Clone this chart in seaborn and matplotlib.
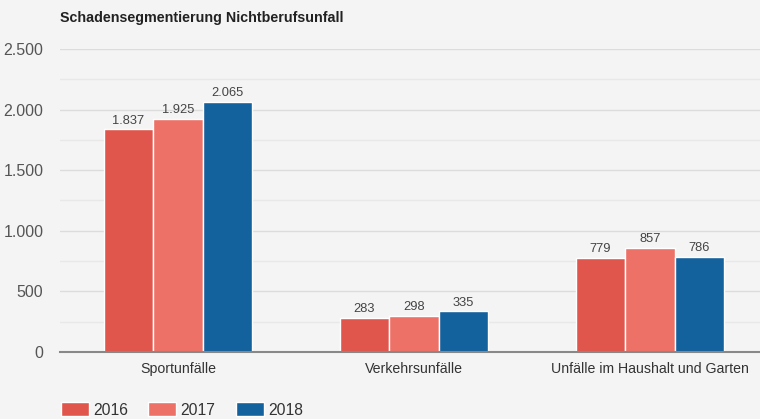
import matplotlib
matplotlib.use("Agg")
import matplotlib.pyplot as plt
import seaborn as sns
import pandas as pd

# Claims segmentation for non-occupational accidents
categories = ["Sportunfälle", "Verkehrsunfälle", "Unfälle im Haushalt und Garten"]
years = ["2016", "2017", "2018"]
values_2016 = [1837, 283, 779]
values_2017 = [1925, 298, 857]
values_2018 = [2065, 335, 786]
colors = ["#e0564d", "#ee7167", "#13619d"]

df = pd.DataFrame({
    "Kategorie": categories * 3,
    "Jahr": [y for y in years for _ in categories],
    "Wert": values_2016 + values_2017 + values_2018,
})

sns.set_theme(style="white")
plt.rcParams["font.family"] = ["Liberation Sans", "DejaVu Sans"]

bg = "#f4f4f4"
fig = plt.figure(figsize=(7.6, 4.19), dpi=100, facecolor=bg)
ax = fig.add_axes([60 / 760, 67 / 419, 708 / 760, 303 / 419])
ax.set_facecolor(bg)

sns.barplot(data=df, x="Kategorie", y="Wert", hue="Jahr", order=categories,
            hue_order=years, palette=colors, width=0.63, edgecolor="white",
            linewidth=1.0, saturation=1, ax=ax, legend=True)

def fmt(v):
    return f"{v:,.0f}".replace(",", ".")

for cont in ax.containers:
    ax.bar_label(cont, labels=[fmt(v) for v in cont.datavalues], padding=2,
                 fontsize=9.3, color="#444444")

ax.set_ylim(0, 2500)
ax.set_yticks(range(0, 2501, 500))
ax.set_yticks(range(250, 2500, 500), minor=True)
ax.set_yticklabels([fmt(v) for v in range(0, 2501, 500)], fontsize=11.5, color="#555555")
ax.grid(axis="y", which="major", color="#dcdcdc", linewidth=1.0)
ax.grid(axis="y", which="minor", color="#e8e8e8", linewidth=1.0)
ax.set_axisbelow(True)
ax.tick_params(axis="y", which="both", length=0, pad=12)
ax.tick_params(axis="x", length=0, pad=7, labelsize=10.2, labelcolor="#333333")
ax.set_xlabel("")
ax.set_ylabel("")
for s in ["top", "right", "left"]:
    ax.spines[s].set_visible(False)
ax.spines["bottom"].set_color("#888888")
ax.spines["bottom"].set_linewidth(1.5)

leg = ax.legend(loc="lower left", bbox_to_anchor=(-0.008, -0.238), ncol=3,
                frameon=False, fontsize=11.3, handlelength=1.8, handleheight=1.0,
                columnspacing=1.3, handletextpad=0.25, borderaxespad=0)
for t in leg.get_texts():
    t.set_color("#333333")

fig.text(60 / 760, 1 - 18 / 419, "Schadensegmentierung Nichtberufsunfall",
         fontsize=10.3, fontweight="bold", color="#222222", va="center", ha="left")

fig.savefig("out.png", dpi=100, facecolor=bg)
